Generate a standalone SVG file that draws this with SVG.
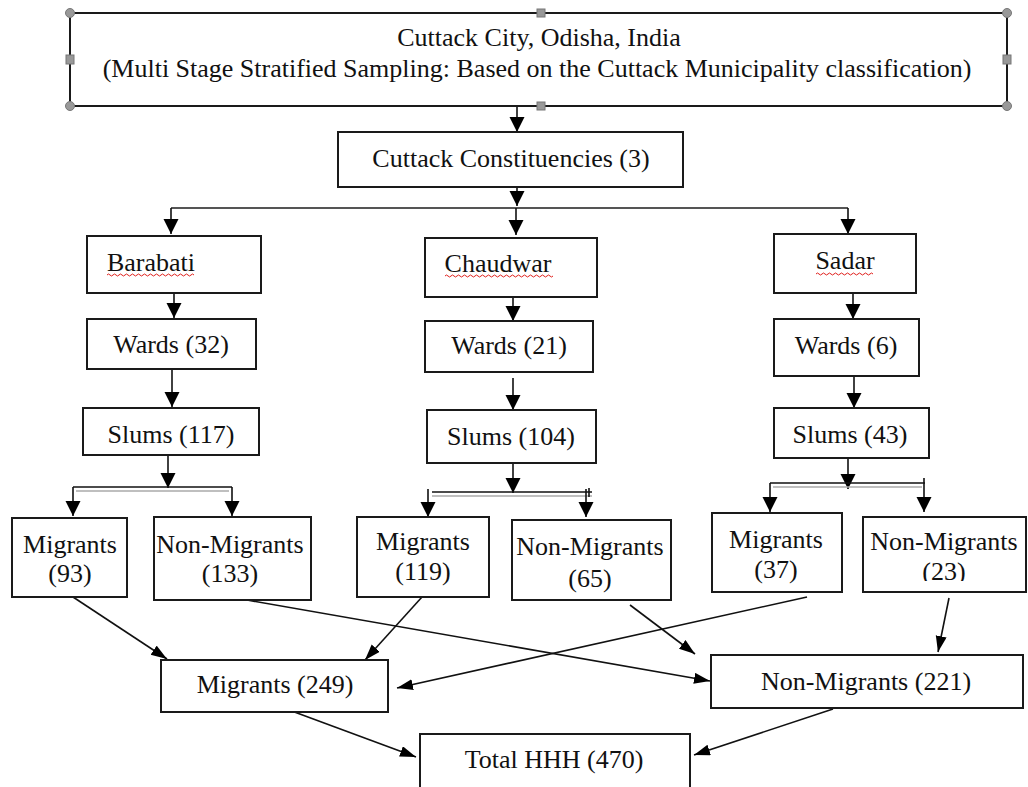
<svg xmlns="http://www.w3.org/2000/svg" width="1028" height="787" viewBox="0 0 1028 787">
<defs>
<style>
.box{fill:#fff;stroke:#1a1a1a;stroke-width:2}
.t{font-family:"Liberation Serif","Times New Roman",serif;font-size:26px;fill:#111;text-anchor:middle}
.c{stroke:#111;stroke-width:1.6;fill:none}
.v{marker-end:url(#ah)}
.d{marker-end:url(#ad)}
.g{stroke:#aaa;stroke-width:1.6;fill:none}
.sq{fill:none;stroke:#e0201c;stroke-width:1}
.hc{fill:#999;stroke:#777;stroke-width:1}
</style>
<marker id="ah" markerUnits="userSpaceOnUse" markerWidth="17" markerHeight="16" refX="15" refY="7.5" orient="auto">
<path d="M0,0 L15,7.5 L0,15 z" fill="#000"/>
</marker>
<marker id="ad" markerUnits="userSpaceOnUse" markerWidth="17" markerHeight="12" refX="16" refY="5.5" orient="auto">
<path d="M0,0 L16,5.5 L0,11 z" fill="#000"/>
</marker>
<clipPath id="clip23"><rect x="863" y="517" width="165" height="64"/></clipPath>
</defs>

<g id="connectors">
<path class="c v" d="M517,106 V132"/>
<path class="c v" d="M517,187 V206"/>
<path d="M171,208 H848" stroke="#555" stroke-width="2" fill="none"/>
<path class="c v" d="M171,208 V234"/>
<path class="c v" d="M516,208 V235"/>
<path class="c v" d="M848,208 V234"/>

<path class="c v" d="M174,293 V318"/>
<path class="c v" d="M172,369 V407"/>
<path class="c v" d="M168,455 V488"/>
<path class="c" d="M73,487 H232"/>
<path class="g" d="M76,491 H229"/>
<path class="c v" d="M73,487 V516"/>
<path class="c v" d="M232,487 V516"/>

<path class="c v" d="M513,297 V321"/>
<path class="c v" d="M513,378 V410"/>
<path class="c v" d="M513,463 V493"/>
<path class="c" d="M432,492 H592"/>
<path class="g" d="M432,496 H592"/>
<path class="c v" d="M428,489 V517"/>
<path class="c v" d="M586,489 V517"/>
<path class="c" d="M589,488 V497"/>

<path class="c v" d="M853,293 V319"/>
<path class="c v" d="M854,373 V408"/>
<path class="c v" d="M848,458 V489"/>
<path class="c" d="M770,483 H925"/>
<path class="g" d="M773,487 H922"/>
<path class="c v" d="M770,483 V512"/>
<path class="c v" d="M924,478 V512"/>

<path class="c d" d="M73,597 L167,659"/>
<path class="c d" d="M422,597 L365,660"/>
<path class="c d" d="M247,600 L710,681"/>
<path class="c d" d="M630,605 L695,654"/>
<path class="c d" d="M807,597 L397,688"/>
<path class="c d" d="M949,598 L938,652"/>
<path class="c d" d="M289,710 L416,757"/>
<path class="c d" d="M833,709 L694,755"/>
</g>

<g id="n-city">
<rect class="box" x="70" y="13" width="937" height="93"/>
<text class="t" x="539" y="46">Cuttack City, Odisha, India</text>
<text class="t" x="537" y="77">(Multi Stage Stratified Sampling: Based on the Cuttack Municipality classification)</text>
<circle class="hc" cx="70" cy="13" r="4.5"/>
<circle class="hc" cx="1007" cy="13" r="4.5"/>
<circle class="hc" cx="70" cy="106" r="4.5"/>
<circle class="hc" cx="1007" cy="106" r="4.5"/>
<rect class="hc" x="537" y="9" width="8" height="8"/>
<rect class="hc" x="537" y="102" width="8" height="8"/>
<rect class="hc" x="66" y="55" width="8" height="9"/>
<rect class="hc" x="1003" y="55" width="8" height="9"/>
</g>

<g id="n-const">
<rect class="box" x="338" y="132" width="345" height="55"/>
<text class="t" x="511" y="167">Cuttack Constituencies (3)</text>
</g>

<g id="n-barabati">
<rect class="box" x="87" y="236" width="174" height="57"/>
<text class="t" x="151" y="271">Barabati</text>
<path class="sq" d="M107,275 q1.5,-2 3,0 t3,0 t3,0 t3,0 t3,0 t3,0 t3,0 t3,0 t3,0 t3,0 t3,0 t3,0 t3,0 t3,0 t3,0 t3,0 t3,0 t3,0 t3,0 t3,0 t3,0 t3,0 t3,0 t3,0 t3,0 t3,0 t3,0 t3,0 t3,0"/>
</g>

<g id="n-chaudwar">
<rect class="box" x="425" y="238" width="172" height="59"/>
<text class="t" x="498" y="272">Chaudwar</text>
<path class="sq" d="M445,276 q1.5,-2 3,0 t3,0 t3,0 t3,0 t3,0 t3,0 t3,0 t3,0 t3,0 t3,0 t3,0 t3,0 t3,0 t3,0 t3,0 t3,0 t3,0 t3,0 t3,0 t3,0 t3,0 t3,0 t3,0 t3,0 t3,0 t3,0 t3,0 t3,0 t3,0 t3,0 t3,0 t3,0 t3,0 t3,0 t3,0 t3,0"/>
</g>

<g id="n-sadar">
<rect class="box" x="774" y="234" width="142" height="59"/>
<text class="t" x="845" y="269">Sadar</text>
<path class="sq" d="M816,274 q1.5,-2 3,0 t3,0 t3,0 t3,0 t3,0 t3,0 t3,0 t3,0 t3,0 t3,0 t3,0 t3,0 t3,0 t3,0 t3,0 t3,0 t3,0 t3,0 t3,0"/>
</g>

<g id="n-wards32">
<rect class="box" x="87" y="319" width="169" height="50"/>
<text class="t" x="171" y="353">Wards (32)</text>
</g>
<g id="n-wards21">
<rect class="box" x="425" y="321" width="168" height="51"/>
<text class="t" x="509" y="354">Wards (21)</text>
</g>
<g id="n-wards6">
<rect class="box" x="774" y="319" width="145" height="57"/>
<text class="t" x="846" y="354">Wards (6)</text>
</g>

<g id="n-slums117">
<rect class="box" x="83" y="408" width="176" height="47"/>
<text class="t" x="171" y="443">Slums (117)</text>
</g>
<g id="n-slums104">
<rect class="box" x="427" y="410" width="169" height="53"/>
<text class="t" x="511" y="445">Slums (104)</text>
</g>
<g id="n-slums43">
<rect class="box" x="774" y="408" width="155" height="50"/>
<text class="t" x="850" y="443">Slums (43)</text>
</g>

<g id="n-mig93">
<rect class="box" x="12" y="518" width="115" height="79"/>
<text class="t" x="70" y="553">Migrants</text>
<text class="t" x="70" y="582">(93)</text>
</g>
<g id="n-non133">
<rect class="box" x="154" y="517" width="157" height="83"/>
<text class="t" x="230" y="553">Non-Migrants</text>
<text class="t" x="230" y="582">(133)</text>
</g>
<g id="n-mig119">
<rect class="box" x="357" y="517" width="132" height="80"/>
<text class="t" x="423" y="550">Migrants</text>
<text class="t" x="423" y="580">(119)</text>
</g>
<g id="n-non65">
<rect class="box" x="512" y="520" width="159" height="80"/>
<text class="t" x="590" y="555">Non-Migrants</text>
<text class="t" x="590" y="587">(65)</text>
</g>
<g id="n-mig37">
<rect class="box" x="712" y="513" width="130" height="79"/>
<text class="t" x="776" y="548">Migrants</text>
<text class="t" x="776" y="578">(37)</text>
</g>
<g id="n-non23">
<rect class="box" x="863" y="517" width="163" height="75"/>
<text class="t" x="944" y="550">Non-Migrants</text>
<text class="t" x="944" y="580" clip-path="url(#clip23)">(23)</text>
</g>

<g id="n-mig249">
<rect class="box" x="161" y="660" width="227" height="52"/>
<text class="t" x="275" y="693">Migrants (249)</text>
</g>
<g id="n-non221">
<rect class="box" x="711" y="655" width="312" height="53"/>
<text class="t" x="866" y="690">Non-Migrants (221)</text>
</g>
<g id="n-total">
<rect class="box" x="420" y="734" width="270" height="60"/>
<text class="t" x="554" y="768">Total HHH (470)</text>
</g>
</svg>
